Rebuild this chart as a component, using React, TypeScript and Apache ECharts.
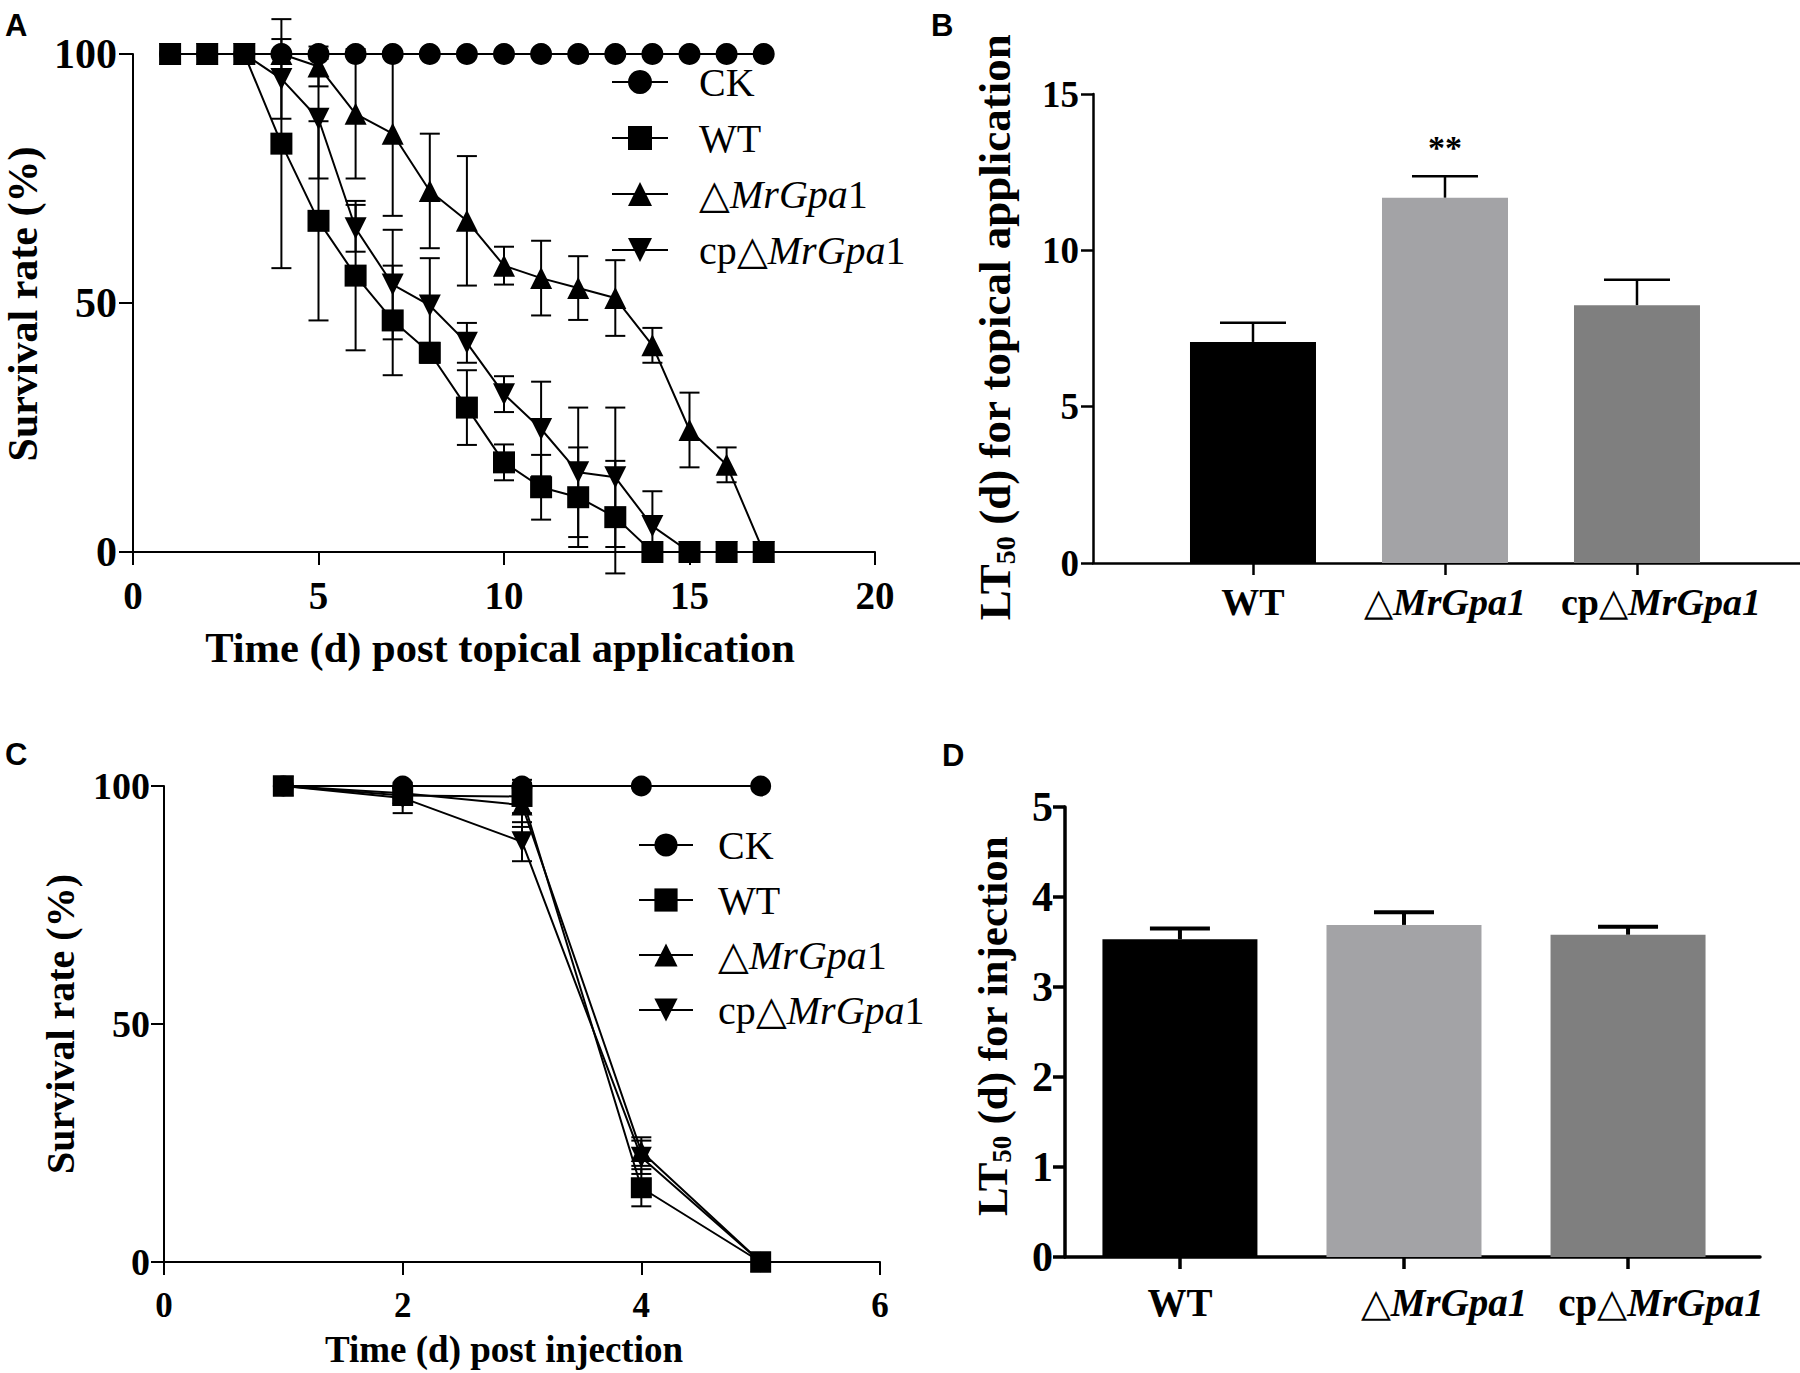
import React, { useEffect, useRef } from "react";
import * as echarts from "echarts";

// ---------- Panel A: survival after topical application ----------
const daysA = [1, 2, 3, 4, 5, 6, 7, 8, 9, 10, 11, 12, 13, 14, 15, 16, 17];
const ckA = [100, 100, 100, 100, 100, 100, 100, 100, 100, 100, 100, 100, 100, 100, 100, 100, 100];
const wtA = [100, 100, 100, 82, 66.5, 55.5, 46.5, 40, 29, 18, 13, 11, 7, 0, 0, 0, 0];
const wtAErr = [0, 0, 0, 25, 20, 15, 11, 2, 7.5, 3.6, 6.5, 10, 11.3, 0, 0, 0, 0];
const dA = [100, 100, 100, 100, 97.5, 88, 84, 72.5, 66.5, 57.5, 55, 53, 51, 41.5, 24.5, 17.5, 0];
const dAErr = [0, 0, 0, 0, 4, 13, 16.5, 11.5, 13, 3.8, 7.5, 6.4, 7.6, 3.5, 7.5, 3.5, 0];
const cpA = [100, 100, 100, 95, 87, 65, 53.7, 49.5, 42, 31.7, 24.7, 16, 15, 5.2, 0, 0, 0];
const cpAErr = [0, 0, 0, 8, 12, 4.7, 11, 9.5, 4, 3.6, 9.5, 13, 14, 7, 0, 0, 0];

// ---------- Panel C: survival after injection ----------
const daysC = [1, 2, 3, 4, 5];
const ckC = [100, 100, 100, 100, 100];
const wtC = [100, 98, 97.8, 15.6, 0];
const wtCErr = [0, 0, 3.5, 3.9, 0];
const dC = [100, 98.5, 96, 23.2, 0];
const dCErr = [0, 1, 4.6, 3, 0];
const cpC = [100, 97.5, 88.3, 22, 0];
const cpCErr = [0, 3.2, 4.1, 3.5, 0];

// ---------- Panels B and D: LT50 ----------
const strains = ["WT", "ΔMrGpa1", "cpΔMrGpa1"];
const strainPos = [1, 2, 3];
// label anchors (the original figure's category labels sit slightly right of their bars)
const labelPosB = [1, 2, 3.125];
const labelPosD = [1, 2.179, 3.147];
const lt50Topical = [7.07, 11.68, 8.24];
const lt50TopicalErr = [0.61, 0.69, 0.82];
const lt50Injection = [3.53, 3.69, 3.58];
const lt50InjectionErr = [0.12, 0.14, 0.09];
const barColors = ["#000000", "#a3a3a6", "#7f7f7f"];
const significance = ["", "**", ""];

const SERIF = "'Liberation Serif', 'Times New Roman', serif";
const SANS = "'Liberation Sans', Arial, sans-serif";

const legendName: Record<string, string> = {
  CK: "{n|CK}",
  WT: "{n|WT}",
  D: "{n|△}{i|MrGpa}{n|1}",
  CP: "{n|cp△}{i|MrGpa}{n|1}",
};

function pairs(xs: number[], ys: number[]) {
  return xs.map((x, i) => [x, ys[i]]);
}
function triples(xs: number[], ys: number[], es: number[]) {
  return xs.map((x, i) => [x, ys[i], es[i]]);
}

function errRender(capHalf: number, lw: number, upOnly: boolean) {
  return (params: any, api: any) => {
    const x = api.value(0);
    const y = api.value(1);
    const e = api.value(2);
    if (!e) return { type: "group", children: [] };
    const top = api.coord([x, y + e]);
    const bot = api.coord([x, upOnly ? y : y - e]);
    const st = { stroke: "#000", lineWidth: lw };
    const children: any[] = [
      { type: "line", shape: { x1: top[0], y1: top[1], x2: bot[0], y2: bot[1] }, style: st },
      { type: "line", shape: { x1: top[0] - capHalf, y1: top[1], x2: top[0] + capHalf, y2: top[1] }, style: st },
    ];
    if (!upOnly) {
      children.push({ type: "line", shape: { x1: bot[0] - capHalf, y1: bot[1], x2: bot[0] + capHalf, y2: bot[1] }, style: st });
    }
    return { type: "group", children };
  };
}

function lineSeries(id: string, name: string, xs: number[], ys: number[], symbol: string, rotate: number, gi: number, size: number) {
  return {
    id,
    name,
    type: "line",
    xAxisIndex: gi,
    yAxisIndex: gi,
    data: pairs(xs, ys),
    symbol,
    symbolSize: size,
    symbolRotate: rotate,
    showSymbol: true,
    lineStyle: { color: "#000", width: 2 },
    itemStyle: { color: "#000" },
    z: 3,
    silent: true,
  };
}

function errSeries(xs: number[], ys: number[], es: number[], gi: number, capHalf: number, lw: number, upOnly: boolean) {
  return {
    type: "custom",
    xAxisIndex: gi,
    yAxisIndex: gi,
    data: triples(xs, ys, es),
    renderItem: errRender(capHalf, lw, upOnly),
    clip: false,
    z: 2,
    silent: true,
  };
}

const legendRich = (fs: number) => ({
  n: { fontFamily: SERIF, fontSize: fs, color: "#000", lineHeight: 40 },
  i: { fontFamily: SERIF, fontSize: fs, fontStyle: "italic", color: "#000", lineHeight: 40 },
});

function barLabelRich(fs: number) {
  return {
    b: { fontFamily: SERIF, fontWeight: "bold", fontSize: fs, color: "#000" },
    t: { fontFamily: SERIF, fontSize: fs, color: "#000" },
    bi: { fontFamily: SERIF, fontWeight: "bold", fontStyle: "italic", fontSize: fs, color: "#000" },
  };
}

function strainLabel(positions: number[]) {
  return (v: number) => {
    let best = 0;
    positions.forEach((p, i) => {
      if (Math.abs(p - v) < Math.abs(positions[best] - v)) best = i;
    });
    if (best === 0) return "{b|WT}";
    if (best === 1) return "{t|△}{bi|MrGpa1}";
    return "{b|cp}{t|△}{bi|MrGpa1}";
  };
}

function valueAxisCommon(lw: number, tickLen: number, fs: number, margin: number) {
  return {
    axisLine: { show: true, onZero: false, lineStyle: { color: "#000", width: lw } },
    axisTick: { show: true, length: tickLen, lineStyle: { color: "#000", width: lw } },
    splitLine: { show: false },
    axisLabel: { color: "#000", fontFamily: SERIF, fontWeight: "bold", fontSize: fs, margin },
  };
}

function buildOption() {
  const barB = {
    type: "bar",
    xAxisIndex: 1,
    yAxisIndex: 1,
    barWidth: 126,
    data: strainPos.map((p, i) => ({
      value: [p, lt50Topical[i]],
      itemStyle: { color: barColors[i] },
      label: {
        show: !!significance[i],
        position: "top",
        distance: 33,
        formatter: significance[i],
        fontFamily: SERIF,
        fontWeight: "bold",
        fontSize: 34,
        color: "#000",
      },
    })),
    z: 2,
    silent: true,
  };
  const barD = {
    type: "bar",
    xAxisIndex: 3,
    yAxisIndex: 3,
    barWidth: 155,
    data: strainPos.map((p, i) => ({ value: [p, lt50Injection[i]], itemStyle: { color: barColors[i] } })),
    z: 2,
    silent: true,
  };

  const titleRich = (fs: number) => ({
    a: { fontFamily: SERIF, fontWeight: "bold", fontSize: fs, fill: "#000", lineHeight: fs + 4 },
    s: { fontFamily: SERIF, fontWeight: "bold", fontSize: Math.round(fs * 0.62), fill: "#000", lineHeight: fs + 4, verticalAlign: "bottom", padding: [Math.round(fs * 0.3), 0, 0, 0] },
  });

  return {
    animation: false,
    backgroundColor: "#ffffff",
    grid: [
      { left: 133, top: 54, width: 742, height: 498 },
      { left: 1093, top: 94, width: 707, height: 469 },
      { left: 164, top: 786, width: 716, height: 476 },
      { left: 1065, top: 807, width: 695, height: 450 },
    ],
    xAxis: [
      { gridIndex: 0, type: "value", min: 0, max: 20, interval: 5, ...valueAxisCommon(2, 13, 39, 24) },
      {
        gridIndex: 1,
        type: "value",
        min: 0.1667,
        max: 3.849,
        ...valueAxisCommon(2.5, 12, 38, 20),
        axisTick: { show: true, length: 12, customValues: strainPos, lineStyle: { color: "#000", width: 2.5 } },
        axisLabel: {
          customValues: labelPosB,
          margin: 20,
          hideOverlap: false,
          formatter: strainLabel(labelPosB),
          rich: barLabelRich(38),
        },
      },
      { gridIndex: 2, type: "value", min: 0, max: 6, interval: 2, ...valueAxisCommon(2, 13, 35, 26) },
      {
        gridIndex: 3,
        type: "value",
        min: 0.487,
        max: 3.589,
        ...valueAxisCommon(3.5, 12, 39, 26),
        axisTick: { show: true, length: 12, customValues: strainPos, lineStyle: { color: "#000", width: 3.5 } },
        axisLabel: {
          customValues: labelPosD,
          margin: 26,
          hideOverlap: false,
          formatter: strainLabel(labelPosD),
          rich: barLabelRich(39),
        },
      },
    ],
    yAxis: [
      { gridIndex: 0, type: "value", min: 0, max: 100, interval: 50, ...valueAxisCommon(2, 14, 42, 16) },
      { gridIndex: 1, type: "value", min: 0, max: 15, interval: 5, ...valueAxisCommon(2.5, 12, 37, 14) },
      { gridIndex: 2, type: "value", min: 0, max: 100, interval: 50, ...valueAxisCommon(2, 13, 38, 14) },
      { gridIndex: 3, type: "value", min: 0, max: 5, interval: 1, ...valueAxisCommon(3.5, 12, 42, 12) },
    ],
    legend: [
      {
        data: ["A-CK", "A-WT", "A-D", "A-CP"],
        orient: "vertical",
        left: 606,
        top: 57,
        itemWidth: 56,
        itemHeight: 30,
        itemGap: 16,
        selectedMode: false,
        formatter: (n: string) => legendName[n.split("-")[1]],
        textStyle: { padding: [0, 0, 0, 26], rich: legendRich(40) },
      },
      {
        data: ["C-CK", "C-WT", "C-D", "C-CP"],
        orient: "vertical",
        left: 633,
        top: 820,
        itemWidth: 54,
        itemHeight: 29,
        itemGap: 15,
        selectedMode: false,
        formatter: (n: string) => legendName[n.split("-")[1]],
        textStyle: { padding: [0, 0, 0, 20], rich: legendRich(40) },
      },
    ],
    series: [
      // Panel A
      errSeries(daysA, dA, dAErr, 0, 10, 2, false),
      errSeries(daysA, cpA, cpAErr, 0, 10, 2, false),
      errSeries(daysA, wtA, wtAErr, 0, 10, 2, false),
      lineSeries("a-ck", "A-CK", daysA, ckA, "circle", 0, 0, 22),
      lineSeries("a-d", "A-D", daysA, dA, "triangle", 0, 0, 22),
      lineSeries("a-cp", "A-CP", daysA, cpA, "triangle", 180, 0, 22),
      lineSeries("a-wt", "A-WT", daysA, wtA, "rect", 0, 0, 22),
      // Panel C
      errSeries(daysC, dC, dCErr, 2, 10, 2, false),
      errSeries(daysC, cpC, cpCErr, 2, 10, 2, false),
      errSeries(daysC, wtC, wtCErr, 2, 10, 2, false),
      lineSeries("c-ck", "C-CK", daysC, ckC, "circle", 0, 2, 21),
      lineSeries("c-d", "C-D", daysC, dC, "triangle", 0, 2, 21),
      lineSeries("c-cp", "C-CP", daysC, cpC, "triangle", 180, 2, 21),
      lineSeries("c-wt", "C-WT", daysC, wtC, "rect", 0, 2, 21),
      // Panel B
      barB,
      errSeries(strainPos, lt50Topical, lt50TopicalErr, 1, 33, 2.5, true),
      // Panel D
      barD,
      errSeries(strainPos, lt50Injection, lt50InjectionErr, 3, 30, 4, true),
    ],
    graphic: [
      { type: "text", left: 5, top: 10, style: { text: "A", font: `bold 31px ${SANS}`, fill: "#000" } },
      { type: "text", left: 931, top: 10, style: { text: "B", font: `bold 31px ${SANS}`, fill: "#000" } },
      { type: "text", left: 5, top: 739, style: { text: "C", font: `bold 31px ${SANS}`, fill: "#000" } },
      { type: "text", left: 942, top: 740, style: { text: "D", font: `bold 31px ${SANS}`, fill: "#000" } },
      {
        type: "text",
        x: 500,
        y: 647,
        style: { text: "Time (d) post topical application", font: `bold 42.5px ${SERIF}`, fill: "#000", align: "center", verticalAlign: "middle" },
      },
      {
        type: "text",
        x: 23,
        y: 304,
        rotation: Math.PI / 2,
        style: { text: "Survival rate (%)", font: `bold 42px ${SERIF}`, fill: "#000", align: "center", verticalAlign: "middle" },
      },
      {
        type: "text",
        x: 504,
        y: 1349,
        style: { text: "Time (d) post injection", font: `bold 37px ${SERIF}`, fill: "#000", align: "center", verticalAlign: "middle" },
      },
      {
        type: "text",
        x: 60,
        y: 1024,
        rotation: Math.PI / 2,
        style: { text: "Survival rate (%)", font: `bold 40px ${SERIF}`, fill: "#000", align: "center", verticalAlign: "middle" },
      },
      {
        type: "text",
        x: 995,
        y: 327,
        rotation: Math.PI / 2,
        style: {
          text: "{a|LT}{s|50}{a| (d) for topical application}",
          align: "center",
          verticalAlign: "middle",
          rich: titleRich(45),
        },
      },
      {
        type: "text",
        x: 992,
        y: 1026,
        rotation: Math.PI / 2,
        style: {
          text: "{a|LT}{s|50}{a| (d) for injection}",
          align: "center",
          verticalAlign: "middle",
          rich: titleRich(43),
        },
      },
    ],
  };
}

export default function App() {
  const ref = useRef<HTMLDivElement>(null);
  useEffect(() => {
    if (!ref.current) return;
    const chart = echarts.init(ref.current, undefined, { renderer: "svg" });
    chart.setOption(buildOption() as any);
    return () => chart.dispose();
  }, []);
  return (
    <div
      ref={ref}
      style={{ position: "fixed", left: 0, top: 0, width: 1800, height: 1373, background: "#fff" }}
    />
  );
}
